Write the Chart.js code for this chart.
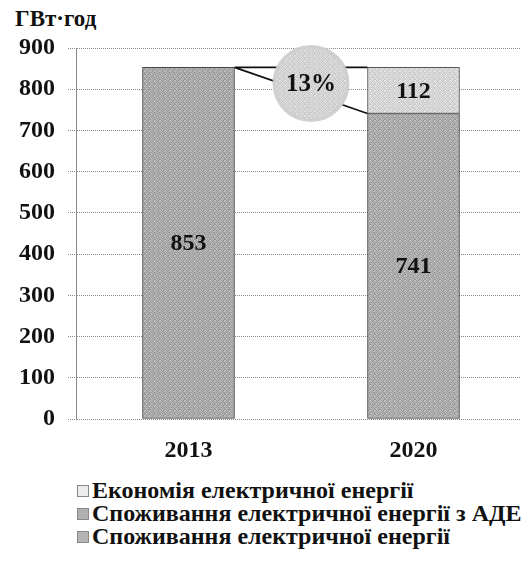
<!DOCTYPE html>
<html>
<head>
<meta charset="utf-8">
<script src="https://cdn.jsdelivr.net/npm/chart.js@4.4.1/dist/chart.umd.min.js"></script>
<style>
  body { margin: 0; background: #fff; overflow: hidden; width: 521px; height: 571px; position: relative; font-family: "Liberation Serif", "Times New Roman", Tinos, "DejaVu Serif", serif; }
  #wrap { position: absolute; left: 0; top: 0; width: 540px; height: 470px; }
  #unit { position: absolute; left: 15px; top: 6px; font-weight: bold; font-size: 23px; color: #111; }
  #legend { position: absolute; left: 77px; top: 479px; font-weight: bold; font-size: 24px; line-height: 23px; color: #111; }
  .item { display: flex; align-items: center; white-space: nowrap; height: 23px; }
  .box { width: 12px; height: 12px; margin-right: 3px; border: 1px solid #888; box-sizing: border-box; flex: none; }
</style>
</head>
<body>
<div id="unit">ГВт·год</div>
<div id="wrap"><canvas id="chart" width="540" height="470"></canvas></div>
<div id="legend"></div>
<script>
// дані з рисунка
const years = ['2013', '2020'];
const spozhyvannia = [853, null];      // Споживання електричної енергії
const spozhyvanniaADE = [null, 741];   // Споживання електричної енергії з АДЕ
const ekonomiia = [null, 112];         // Економія електричної енергії
const yTicks = [0, 100, 200, 300, 400, 500, 600, 700, 800, 900];
const percentLabel = '13%';

const legendLabels = [
  'Споживання електричної енергії',
  'Споживання електричної енергії з АДЕ',
  'Економія електричної енергії'
];

const SERIF = '"Liberation Serif", "Times New Roman", Tinos, "DejaVu Serif", serif';

// зернистий "друкований" фон для стовпців
function stipple(base, amp) {
  const c = document.createElement('canvas');
  c.width = 5; c.height = 5;
  const g = c.getContext('2d');
  const offs = [3, -2, 1, -3, 2, -1, 2, -2, 0, 3, 1, -3, 2, -1, -2, 0, 3, -2, 1, -1, -3, 2, 0, 1, -2];
  for (let i = 0; i < 25; i++) {
    const v = Math.max(0, Math.min(255, base + offs[i] * amp));
    g.fillStyle = `rgb(${v},${v},${v})`;
    g.fillRect(i % 5, Math.floor(i / 5), 1, 1);
  }
  return g.createPattern(c, 'repeat');
}

const fillMain = stipple(170, 9);
const fillADE = stipple(172, 9);
const fillSave = stipple(214, 7);
const fillCircle = stipple(212, 6);

const overlay = {
  id: 'overlay',
  afterDatasetsDraw(chart) {
    const ctx = chart.ctx;
    const y = chart.scales.y;
    const b13 = chart.getDatasetMeta(0).data[0];
    const b20 = chart.getDatasetMeta(1).data[1];
    const x1 = b13.x + b13.width / 2;
    const x2 = b20.x - b20.width / 2;
    const yTop = y.getPixelForValue(spozhyvannia[0]);
    const yLow = y.getPixelForValue(spozhyvanniaADE[1]);

    ctx.save();
    ctx.strokeStyle = '#111';
    ctx.lineWidth = 1.6;
    ctx.beginPath();
    ctx.moveTo(x1, yTop); ctx.lineTo(x2, yTop);
    ctx.moveTo(x1, yTop); ctx.lineTo(x2, yLow);
    ctx.stroke();

    // кружок з відсотком
    const cx = (x1 + x2) / 2 + 10;
    const cy = (yTop + yLow) / 2 - 7;
    const r = 37;
    ctx.beginPath();
    ctx.arc(cx, cy, r, 0, Math.PI * 2);
    ctx.fillStyle = fillCircle;
    ctx.fill();
    ctx.lineWidth = 3;
    ctx.strokeStyle = 'rgba(205,205,205,0.9)';
    ctx.stroke();
    ctx.fillStyle = '#111';
    ctx.font = 'bold 25px ' + SERIF;
    ctx.textAlign = 'center';
    ctx.textBaseline = 'middle';
    ctx.fillText(percentLabel, cx, cy + 1);

    // підписи значень
    ctx.font = 'bold 24px ' + SERIF;
    chart.data.datasets.forEach((ds, i) => {
      chart.getDatasetMeta(i).data.forEach((bar, j) => {
        if (ds.data[j] == null) return;
        const p = bar.getCenterPoint();
        ctx.fillText(String(ds.data[j]), p.x, p.y + 1);
      });
    });
    ctx.restore();
  }
};

const ctx = document.getElementById('chart').getContext('2d');
const chart = new Chart(ctx, {
  type: 'bar',
  data: {
    labels: years,
    datasets: [
      { label: legendLabels[0], data: spozhyvannia, backgroundColor: fillMain, borderColor: '#444', borderWidth: 1, borderSkipped: false },
      { label: legendLabels[1], data: spozhyvanniaADE, backgroundColor: fillADE, borderColor: '#444', borderWidth: 1, borderSkipped: false },
      { label: legendLabels[2], data: ekonomiia, backgroundColor: fillSave, borderColor: '#555', borderWidth: 1, borderSkipped: false }
    ]
  },
  options: {
    responsive: false,
    animation: false,
    layout: { padding: { top: 48, right: 14, left: 0, bottom: 8 } },
    plugins: {
      legend: { display: false },
      tooltip: { enabled: false }
    },
    datasets: { bar: { barThickness: 92 } },
    scales: {
      x: {
        stacked: true,
        afterFit(scale) { scale.height = 43; },
        grid: { display: false, drawTicks: false },
        border: { display: false },
        ticks: { padding: 17, color: '#111', font: { family: SERIF, size: 24, weight: 'bold' } }
      },
      y: {
        stacked: true,
        min: 0,
        max: 900,
        afterFit(scale) { scale.width = 76; },
        afterBuildTicks(scale) { scale.ticks = yTicks.map(v => ({ value: v })); },
        grid: { color: '#8a8a8a', lineWidth: 1, tickLength: 8, tickBorderDash: [1, 1], tickColor: '#8a8a8a' },
        border: { display: true, dash: [1, 1], color: '#8a8a8a' },
        ticks: { padding: 13, color: '#111', font: { family: SERIF, size: 24, weight: 'bold' } }
      }
    }
  },
  plugins: [overlay]
});
// пунктирна сітка
chart.options.scales.y.grid.borderDash = [1, 1];
chart.update();

// легенда (у порядку з рисунка)
const legendColors = ['#b4b4b4', '#b0b0b0', '#ececec'];
const legend = document.getElementById('legend');
[2, 1, 0].forEach(i => {
  const row = document.createElement('div');
  row.className = 'item';
  row.innerHTML = `<span class="box" style="background:${legendColors[i]}"></span><span>${legendLabels[i]}</span>`;
  legend.appendChild(row);
});
</script>
</body>
</html>
